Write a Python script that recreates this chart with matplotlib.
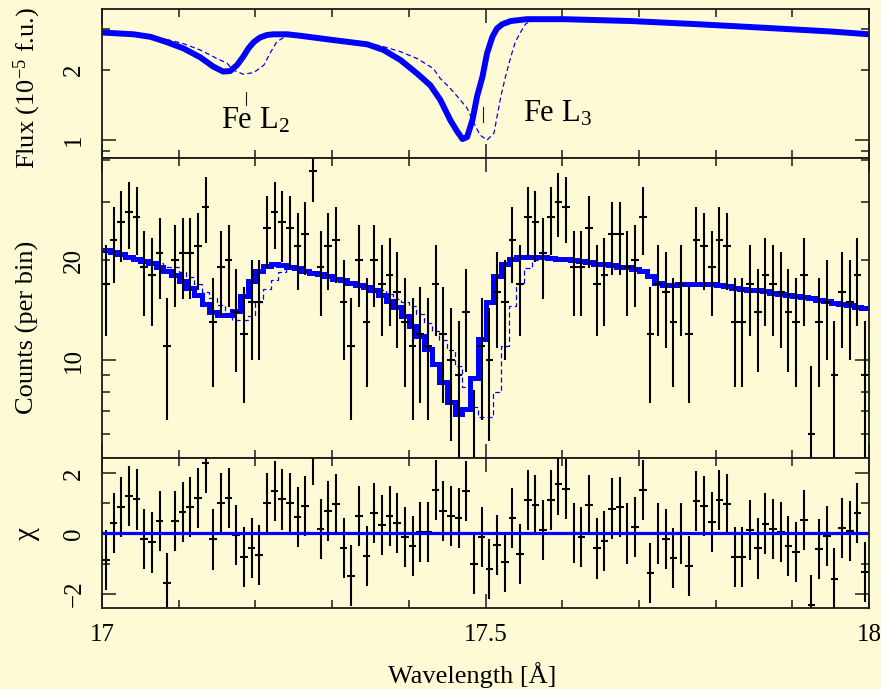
import numpy as np
import matplotlib
matplotlib.use("Agg")
import matplotlib.pyplot as plt
from matplotlib.ticker import FixedLocator, FixedFormatter
import matplotlib.transforms as mtransforms

plt.rcParams['font.family'] = ['Liberation Serif', 'DejaVu Serif']
plt.rcParams['mathtext.fontset'] = 'custom'
plt.rcParams['mathtext.rm'] = 'Liberation Serif'
plt.rcParams['mathtext.it'] = 'Liberation Serif:italic'
plt.rcParams['mathtext.bf'] = 'Liberation Serif:bold'
plt.rcParams['ytick.alignment'] = 'center'

# ---------------- data ----------------
bin_edges = np.round(np.arange(17.0, 18.0001, 0.01), 3)
bin_centers = 0.5 * (bin_edges[:-1] + bin_edges[1:])

counts = [17, 23, 26, 28, 27, 19, 18, 21, 11, 20,
          21, 21, 22, 29, 13, 19, 20, 14, 12, 15,
          15, 25, 28, 26, 25, 22, 24, 37, 19, 22,
          23, 15, 11, 20, 13, 20, 17, 18, 16, 13,
          11, 12, 11, 17, 12, 10, 9, 14, 5, 11,
          10, 16, 15, 23, 17, 27, 26, 21, 27, 30,
          29, 19, 19, 25, 17, 18, 24, 24, 19, 20,
          27, 12, 17, 16, 13, 17, 12, 23, 22, 19,
          23, 22, 13, 13, 17, 14, 18, 17, 16, 14,
          13, 18, 6, 13, 15, 9, 16, 15, 18, 9]

count_err = [5.2, 5.9, 6.2, 6.4, 6.3, 5.4, 5.3, 5.7, 4.4, 5.6,
             5.7, 5.7, 5.8, 6.5, 4.7, 5.4, 5.6, 4.8, 4.6, 5.0,
             5.0, 6.1, 6.4, 6.2, 6.1, 5.8, 6.0, 7.1, 5.4, 5.8,
             5.9, 5.0, 4.4, 5.6, 4.7, 5.6, 5.2, 5.3, 5.1, 4.7,
             4.4, 4.6, 4.4, 5.2, 4.6, 4.3, 4.1, 4.8, 3.1, 4.4,
             4.3, 5.1, 5.0, 5.9, 5.2, 6.3, 6.2, 5.7, 6.3, 6.5,
             6.5, 5.4, 5.4, 6.1, 5.2, 5.3, 6.0, 6.0, 5.4, 5.6,
             6.3, 4.6, 5.2, 5.1, 4.7, 5.2, 4.6, 5.9, 5.8, 5.4,
             5.9, 5.8, 4.7, 4.7, 5.2, 4.8, 5.3, 5.2, 5.1, 4.8,
             4.7, 5.3, 3.6, 4.7, 5.0, 4.1, 5.1, 5.0, 5.3, 4.1]

model_counts = [21.5, 21.1, 20.8, 20.5, 20.2, 19.9, 19.6, 19.1, 18.6, 18.0,
                17.3, 16.5, 15.7, 14.8, 14.0, 13.7, 13.7, 14.1, 15.6, 17.3,
                18.6, 19.2, 19.4, 19.3, 19.1, 18.9, 18.6, 18.3, 18.1, 17.9,
                17.6, 17.4, 17.1, 16.8, 16.6, 16.2, 15.7, 15.1, 14.4, 13.6,
                12.7, 11.8, 10.8, 9.7, 8.6, 7.5, 6.9, 7.1, 8.8, 11.6,
                15.0, 17.9, 19.4, 20.1, 20.4, 20.5, 20.5, 20.4, 20.3, 20.2,
                20.1, 20.0, 19.9, 19.7, 19.5, 19.4, 19.3, 19.1, 19.0, 18.8,
                18.6, 17.9, 17.1, 16.8, 16.8, 16.9, 17.0, 17.0, 17.0, 16.9,
                16.8, 16.7, 16.5, 16.4, 16.3, 16.2, 16.1, 15.9, 15.8, 15.7,
                15.6, 15.5, 15.4, 15.2, 15.1, 14.9, 14.8, 14.6, 14.4, 14.3]

model_counts_alt = [21.5, 21.1, 20.8, 20.5, 20.2, 19.9, 19.7, 19.6, 19.1, 19.0,
                    18.4, 17.8, 17.0, 16.0, 15.4, 14.6, 13.9, 13.2, 13.2, 13.6,
                    15.0, 16.4, 17.4, 18.4, 19.1, 18.9, 18.6, 18.3, 18.1, 17.9,
                    17.6, 17.4, 17.1, 16.8, 16.6, 16.5, 16.2, 15.8, 15.3, 15.0,
                    14.5, 13.8, 12.9, 12.2, 11.5, 10.7, 9.6, 8.3, 7.2, 6.75,
                    6.75, 8.0, 11.0, 14.5, 17.0, 18.9, 20.0, 20.4, 20.3, 20.2,
                    20.1, 20.0, 19.9, 19.7, 19.5, 19.4, 19.3, 19.1, 19.0, 18.8,
                    18.6, 17.9, 17.1, 16.8, 16.8, 16.9, 17.0, 17.0, 17.0, 16.9,
                    16.8, 16.7, 16.5, 16.4, 16.3, 16.2, 16.1, 15.9, 15.8, 15.7,
                    15.6, 15.5, 15.4, 15.2, 15.1, 14.9, 14.8, 14.6, 14.4, 14.3]

chi = [-0.89, 0.36, 0.89, 1.26, 1.13, -0.17, -0.30, 0.40, -1.64, 0.40,
       0.72, 0.87, 1.19, 2.36, -0.20, 1.02, 1.19, -0.06, -0.78, -0.48,
       -0.73, 1.02, 1.40, 1.13, 1.00, 0.56, 0.92, 2.62, 0.16, 0.74,
       0.97, -0.48, -1.40, 0.59, -0.76, 0.69, 0.27, 0.58, 0.36, -0.11,
       -0.41, 0.06, 0.06, 1.44, 0.74, 0.59, 0.50, 1.42, -1.03, -0.13,
       -1.17, -0.39, -0.94, 0.52, -0.67, 1.11, 0.94, 0.11, 1.11, 1.63,
       1.48, 0.02, -0.13, 0.94, -0.50, -0.26, 0.83, 0.87, 0.00, 0.22,
       1.44, -1.31, 0.00, -0.17, -0.83, 0.00, -1.09, 1.08, 0.92, 0.39,
       1.11, 0.98, -0.78, -0.78, 0.11, -0.50, 0.33, 0.14, 0.04, -0.41,
       -0.61, 0.44, -2.39, -0.53, -0.09, -1.50, 0.19, 0.09, 0.67, -1.28]

flux_wave = [17.000, 17.041, 17.063, 17.084, 17.106, 17.128, 17.145, 17.158,
             17.167, 17.176, 17.184, 17.191, 17.198, 17.206, 17.215, 17.224,
             17.241, 17.258, 17.302, 17.346, 17.367, 17.389, 17.411, 17.428,
             17.441, 17.454, 17.463, 17.470, 17.476, 17.483, 17.489, 17.496,
             17.502, 17.509, 17.515, 17.522, 17.533, 17.554, 17.602, 17.689,
             17.776, 17.863, 17.950, 18.000]
flux_model = [2.90, 2.85, 2.78, 2.64, 2.48, 2.27, 2.07, 1.97,
              1.98, 2.10, 2.28, 2.48, 2.64, 2.76, 2.83, 2.85,
              2.85, 2.81, 2.69, 2.58, 2.44, 2.21, 1.93, 1.72,
              1.49, 1.22, 1.09, 1.01, 1.03, 1.22, 1.54, 1.87,
              2.36, 2.78, 3.02, 3.15, 3.25, 3.31, 3.31, 3.25,
              3.15, 3.04, 2.93, 2.85]

flux_wave_alt = [17.000, 17.041, 17.063, 17.084, 17.106, 17.128, 17.150, 17.163,
                 17.171, 17.184, 17.198, 17.211, 17.219, 17.228, 17.237, 17.245,
                 17.258, 17.302, 17.346, 17.367, 17.389, 17.411, 17.432, 17.441,
                 17.454, 17.467, 17.476, 17.485, 17.493, 17.502, 17.511, 17.515,
                 17.520, 17.526, 17.533, 17.539, 17.546, 17.552, 17.559, 17.602,
                 17.689, 17.776, 17.863, 17.950, 18.000]
flux_model_alt = [2.90, 2.85, 2.78, 2.71, 2.60, 2.44, 2.24, 2.14,
                  2.00, 1.92, 1.95, 2.10, 2.36, 2.65, 2.76, 2.82,
                  2.81, 2.69, 2.62, 2.52, 2.40, 2.24, 2.03, 1.84,
                  1.67, 1.49, 1.37, 1.18, 1.05, 1.00, 1.07, 1.26,
                  1.54, 1.87, 2.28, 2.65, 2.92, 3.15, 3.26, 3.31,
                  3.25, 3.15, 3.04, 2.93, 2.85]

line_labels = [r'Fe L$_2$', r'Fe L$_3$']
line_waves = [17.1875, 17.497]

# ---------------- figure ----------------
BG = '#fffad6'
INK = '#1a1a1a'
W, H = 881, 689
fig = plt.figure(figsize=(W / 100, H / 100), dpi=100, facecolor=BG)

L, R = 102, 869
def axes_px(top, bottom):
    return fig.add_axes([L / W, 1 - bottom / H, (R - L) / W, (bottom - top) / H])

ax1 = axes_px(9.3, 158)
ax2 = axes_px(158, 458)
ax3 = axes_px(458, 608.3)

for ax in (ax1, ax2, ax3):
    ax.set_facecolor(BG)
    for s in ax.spines.values():
        s.set_linewidth(1.3)
        s.set_color(INK)
    ax.set_xlim(17, 18)
    ax.tick_params(which='both', direction='in', top=True, right=True,
                   color=INK, width=1.1, labelsize=18, labelcolor='black')
    ax.tick_params(which='major', length=10)
    ax.tick_params(which='minor', length=5.5)
    ax.tick_params(axis='y', which='both', labelrotation=90, pad=12)
    ax.tick_params(axis='x', which='both', pad=11.5)
    ax.xaxis.set_major_locator(FixedLocator([17, 17.5, 18]))
    ax.xaxis.set_major_formatter(FixedFormatter(['17', '17.5', '18']))
    ax.xaxis.set_minor_locator(FixedLocator([17.1, 17.2, 17.3, 17.4, 17.6, 17.7, 17.8, 17.9]))

ax1.tick_params(labelbottom=False)
ax2.tick_params(labelbottom=False)

# ---- top: flux model ----
ax1.set_yscale('log')
ax1.set_ylim(0.837, 3.65)
ax1.plot(flux_wave_alt, flux_model_alt, color='blue', lw=0.9, ls=(0, (4, 2.5)))
ax1.plot(flux_wave, flux_model, color='blue', lw=4.3, solid_capstyle='round',
         solid_joinstyle='round')
ax1.yaxis.set_major_locator(FixedLocator([1]))
ax1.yaxis.set_major_formatter(FixedFormatter(['1']))
ax1.yaxis.set_minor_locator(FixedLocator([0.9, 2, 3]))
ax1.yaxis.set_minor_formatter(FixedFormatter(['', '2', '']))

trans1 = mtransforms.blended_transform_factory(ax1.transData, ax1.transAxes)
ax1.plot([line_waves[0]] * 2, [0.356, 0.446], transform=trans1, color=INK, lw=0.8)
ax1.plot([line_waves[1]] * 2, [0.244, 0.345], transform=trans1, color=INK, lw=0.8)
ax1.text(17.1548, 0.20, line_labels[0], transform=trans1, fontsize=22,
         ha='left', va='baseline')
ax1.text(17.549, 0.244, line_labels[1], transform=trans1, fontsize=22,
         ha='left', va='baseline')

# ---- middle: counts ----
ax2.set_yscale('log')
ax2.set_ylim(5.07, 40.6)
ax2.errorbar(bin_centers, counts, xerr=0.005, yerr=count_err, fmt='none',
             ecolor='black', elinewidth=1.5, capsize=0)
ax2.stairs(model_counts_alt, bin_edges, baseline=None, color='blue', lw=0.9,
           ls=(0, (4, 2.5)))
ax2.stairs(model_counts, bin_edges, baseline=None, color='blue', lw=3.6)
ax2.yaxis.set_major_locator(FixedLocator([10]))
ax2.yaxis.set_major_formatter(FixedFormatter(['10']))
ax2.yaxis.set_minor_locator(FixedLocator([6, 7, 8, 9, 20, 30, 40]))
ax2.yaxis.set_minor_formatter(FixedFormatter(['', '', '', '', '20', '', '']))

# ---- bottom: residuals ----
ax3.set_ylim(-2.49, 2.51)
ax3.errorbar(bin_centers, chi, xerr=0.005, yerr=1.0, fmt='none',
             ecolor='black', elinewidth=1.5, capsize=0)
ax3.axhline(0, color='blue', lw=2.3)
ax3.yaxis.set_major_locator(FixedLocator([-2, 0, 2]))
ax3.yaxis.set_major_formatter(FixedFormatter(['\u22122', '0', '2']))
ax3.yaxis.set_minor_locator(FixedLocator([-1, 1]))

# ---- axis titles ----
fig.text(27 / W, 1 - 88 / H, r'Flux (10$^{-5}$ f.u.)', rotation=90,
         ha='center', va='center', fontsize=19)
fig.text(27 / W, 1 - 327 / H, 'Counts (per bin)', rotation=90,
         ha='center', va='center', fontsize=19)
fig.text(27 / W, 1 - 533 / H, '\u03c7', rotation=90,
         ha='center', va='center', fontsize=21)
fig.text(472 / W, 1 - 683 / H, 'Wavelength [\u00c5]', ha='center',
         va='baseline', fontsize=19)

fig.savefig('out.png', dpi=100, facecolor=BG)
